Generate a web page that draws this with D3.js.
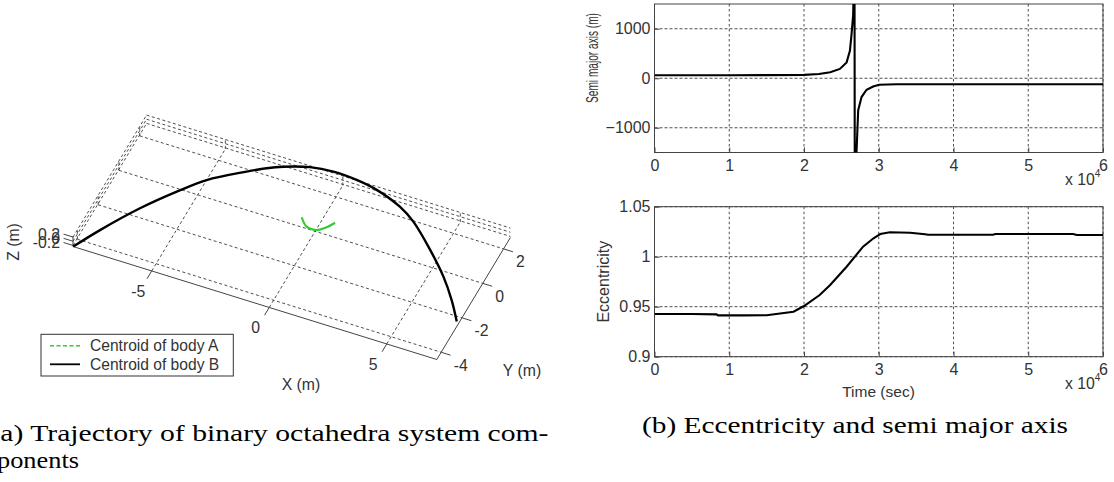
<!DOCTYPE html>
<html>
<head>
<meta charset="utf-8">
<script src="https://cdn.jsdelivr.net/npm/d3@7"></script>
<style>
  body { margin: 0; background: #fff; }
  svg { display: block; }
  text { font-family: "Liberation Sans", sans-serif; fill: #333; }
  .cap { font-family: "Liberation Serif", serif; fill: #000; }
</style>
</head>
<body>
<svg id="fig" width="1114" height="482"></svg>
<script>
// ---------- (a) trajectory, metres ----------
const bodyBX = [-8.34, -7.70, -6.69, -5.69, -4.84, -3.56, -2.90, -2.33, -1.35, -0.41, 0.60, 1.53, 2.71, 3.50, 4.68, 5.70, 6.47, 7.09]
const bodyBY = [-4.42, -3.29, -1.73, -0.45, 0.50, 1.45, 1.89, 2.19, 2.55, 2.68, 2.63, 2.46, 2.02, 1.53, 0.48, -0.55, -1.50, -2.41]
const bodyBZ = [-0.25, -0.17, -0.06, 0.03, 0.097, 0.165, 0.196, 0.217, 0.242, 0.25, 0.248, 0.236, 0.205, 0.17, 0.096, 0.023, -0.044, -0.108]

const bodyAX = [-0.64, -0.27, 0.16, 0.47, 0.68]
const bodyAY = [0.15, -0.21, -0.22, 0.05, 0.37]
const bodyAZ = [0.073, 0.047, 0.047, 0.065, 0.089]

const xLim3 = [-8.35, 7.13]
const yLim3 = [-4.42, 2.66]
const zLim3 = [-0.25, 0.25]
const xTicks3 = [-5, 0, 5]
const yTicks3 = [-4, -2, 0, 2]
const zTicks3 = [-0.2, 0, 0.2]
const legendNames = ["Centroid of body A", "Centroid of body B"]

// ---------- (b) orbit elements ----------
const smaTime = [0, 5000, 10000, 15000, 20000, 22000, 23500, 24800, 25700, 26140, 26360, 26580, 26750, 26800, 27030, 27250, 27700, 28370, 29250, 30050, 32380, 40000, 50000, 60000]
const smaValues = [62, 62, 62, 63, 68, 85, 120, 188, 320, 554, 888, 1288, 3000, -3000, -1480, -646, -380, -232, -166, -132, -122, -122, -122, -122]

const eccTime = [0, 5000, 8300, 8500, 12000, 15000, 18600, 20000, 22100, 23500, 25700, 27900, 29300, 30200, 31500, 34200, 36200, 36600, 41300, 45300, 45600, 56000, 56500, 60000]
const eccValues = [0.9427, 0.9427, 0.9423, 0.9413, 0.9413, 0.9414, 0.945, 0.9507, 0.9617, 0.9717, 0.990, 1.010, 1.0184, 1.0227, 1.0244, 1.024, 1.0224, 1.022, 1.022, 1.022, 1.0227, 1.0227, 1.0217, 1.0217]

const timeTicks = [0, 10000, 20000, 30000, 40000, 50000, 60000]
const smaTicks = [-1000, 0, 1000]
const eccTicks = [0.9, 0.95, 1, 1.05]

const svg = d3.select("#fig")
const fs = 15.8

// ================= left: 3D trajectory =================
const sx3 = d3.scaleLinear().domain(xLim3).range([0, 1])
const sy3 = d3.scaleLinear().domain(yLim3).range([0, 1])
const sz3 = d3.scaleLinear().domain(zLim3).range([0, 1])

// screen corner of (xmin, ymin, zmin) and the edge vectors of the box
const origin = [73, 246.5]
const edgeX = [363.8, 113]
const edgeY = [73.6, -122]
const edgeZ = [0, -10.5]

function proj(x, y, z) {
    const a = sx3(x), b = sy3(y), c = sz3(z)
    return [origin[0] + a * edgeX[0] + b * edgeY[0] + c * edgeZ[0],
            origin[1] + a * edgeX[1] + b * edgeY[1] + c * edgeZ[1]]
}

const line = d3.line()
const g3 = svg.append("g")

function seg(p, q, cls) {
    g3.append("path").attr("class", cls).attr("d", line([p, q]))
}

const [x0, x1] = xLim3, [y0, y1] = yLim3, [z0, z1] = zLim3

// grid (floor + two back walls)
xTicks3.forEach(x => {
    seg(proj(x, y0, z0), proj(x, y1, z0), "grid3")
    seg(proj(x, y1, z0), proj(x, y1, z1), "grid3")
})
yTicks3.forEach(y => {
    seg(proj(x0, y, z0), proj(x1, y, z0), "grid3")
    seg(proj(x0, y, z0), proj(x0, y, z1), "grid3")
})
zTicks3.forEach(z => {
    seg(proj(x0, y1, z), proj(x1, y1, z), "grid3")
    seg(proj(x0, y0, z), proj(x0, y1, z), "grid3")
})

// axis lines
seg(proj(x0, y0, z0), proj(x1, y0, z0), "ax3")
seg(proj(x1, y0, z0), proj(x1, y1, z0), "ax3")
seg(proj(x0, y0, z0), proj(x0, y0, z1), "ax3")

// ticks and labels
xTicks3.forEach(x => {
    const p = proj(x, y0, z0)
    seg(p, proj(x, y0 - 0.45, z0), "ax3")
    g3.append("text").attr("x", p[0] - 13.5).attr("y", p[1] + 20.5)
        .attr("text-anchor", "middle").attr("dominant-baseline", "central")
        .attr("font-size", fs).text(x)
})
yTicks3.forEach(y => {
    const p = proj(x1, y, z0)
    seg(p, proj(x1 + 0.4, y, z0), "ax3")
    g3.append("text").attr("x", p[0] + 12.5).attr("y", p[1] + 13)
        .attr("text-anchor", "start").attr("dominant-baseline", "central")
        .attr("font-size", fs).text(y)
})
zTicks3.forEach(z => {
    const p = proj(x0, y0, z)
    seg(p, proj(x0 - 0.4, y0, z), "ax3")
    g3.append("text").attr("x", p[0] - 13).attr("y", p[1] - 3)
        .attr("text-anchor", "end").attr("dominant-baseline", "central")
        .attr("font-size", fs).text(z)
})

g3.selectAll(".grid3").attr("fill", "none").attr("stroke", "#222")
    .attr("stroke-width", 0.8).attr("stroke-dasharray", "3,2.5")
g3.selectAll(".ax3").attr("fill", "none").attr("stroke", "#444").attr("stroke-width", 1)

// trajectories
const curve3 = d3.line().curve(d3.curveCatmullRom)
g3.append("path")
    .attr("d", curve3(bodyBX.map((x, i) => proj(x, bodyBY[i], bodyBZ[i]))))
    .attr("fill", "none").attr("stroke", "#000").attr("stroke-width", 2.4)
g3.append("path")
    .attr("d", curve3(bodyAX.map((x, i) => proj(x, bodyAY[i], bodyAZ[i]))))
    .attr("fill", "none").attr("stroke", "#3c3").attr("stroke-width", 2.2)

// axis titles
g3.append("text").attr("x", 301).attr("y", 384).attr("text-anchor", "middle")
    .attr("dominant-baseline", "central").attr("font-size", fs).text("X (m)")
g3.append("text").attr("x", 522).attr("y", 370).attr("text-anchor", "middle")
    .attr("dominant-baseline", "central").attr("font-size", fs).text("Y (m)")
g3.append("text").attr("transform", "translate(13,242) rotate(-90)")
    .attr("text-anchor", "middle").attr("dominant-baseline", "central")
    .attr("font-size", fs).text("Z (m)")

// legend
const leg = g3.append("g").attr("transform", "translate(41,334.3)")
leg.append("rect").attr("width", 192.3).attr("height", 41.7)
    .attr("fill", "#fff").attr("stroke", "#333").attr("stroke-width", 1)
legendNames.forEach((name, i) => {
    const yy = 11.4 + i * 18.6
    leg.append("line").attr("x1", 9).attr("x2", 39).attr("y1", yy).attr("y2", yy)
        .attr("stroke", i === 0 ? "#3c3" : "#000").attr("stroke-width", i === 0 ? 1.4 : 1.8)
        .attr("stroke-dasharray", i === 0 ? "4,2.5" : null)
    leg.append("text").attr("x", 49).attr("y", yy).attr("dominant-baseline", "central")
        .attr("font-size", 15.6).text(name)
})

// ================= right: orbit elements =================
const xR = d3.scaleLinear().domain([0, 60000]).range([654.5, 1103])
const ySma = d3.scaleLinear().domain([-1500, 1500]).range([152.5, 4])
const yEcc = d3.scaleLinear().domain([0.9, 1.05]).range([356.7, 206.7])

function panel(yScale, yTicks, yFmt, xs, ys, clipId) {
    const [yb, yt] = yScale.range()
    const [xl, xr] = xR.range()
    const g = svg.append("g")

    g.append("clipPath").attr("id", clipId).append("rect")
        .attr("x", xl).attr("y", yt).attr("width", xr - xl).attr("height", yb - yt)

    // grid
    g.selectAll(".vg").data(timeTicks).join("line")
        .attr("x1", d => xR(d)).attr("x2", d => xR(d)).attr("y1", yt).attr("y2", yb)
        .attr("stroke", "#222").attr("stroke-width", 0.8).attr("stroke-dasharray", "2.5,2.5")
    g.selectAll(".hg").data(yTicks).join("line")
        .attr("y1", d => yScale(d)).attr("y2", d => yScale(d)).attr("x1", xl).attr("x2", xr)
        .attr("stroke", "#222").attr("stroke-width", 0.8).attr("stroke-dasharray", "3,2")

    // box
    g.append("rect").attr("x", xl).attr("y", yt).attr("width", xr - xl).attr("height", yb - yt)
        .attr("fill", "none").attr("stroke", "#444").attr("stroke-width", 1)

    // axes with inward ticks
    const ax = g.append("g").attr("transform", `translate(0,${yb})`)
        .call(d3.axisBottom(xR).tickValues(timeTicks).tickSize(-5).tickPadding(7)
            .tickFormat(d => d / 10000))
    const ay = g.append("g").attr("transform", `translate(${xl},0)`)
        .call(d3.axisLeft(yScale).tickValues(yTicks).tickSize(-5).tickPadding(4).tickFormat(yFmt))
    ;[ax, ay].forEach(a => {
        a.attr("font-family", null).attr("font-size", null)
        a.select(".domain").remove()
        a.selectAll("line").attr("stroke", "#444")
        a.selectAll("text").attr("font-size", 16).attr("fill", "#333")
    })

    // data line
    g.append("path").attr("clip-path", `url(#${clipId})`)
        .attr("d", d3.line().x(d => xR(d)).y((d, i) => yScale(ys[i]))(xs))
        .attr("fill", "none").attr("stroke", "#000").attr("stroke-width", 2.1)

    // x 10^4 multiplier
    const m = g.append("text").attr("x", 1065).attr("y", yb + 32.5).attr("font-size", fs)
    m.append("tspan").text("x 10")
    m.append("tspan").attr("font-size", 10).attr("dy", -8).text("4")
    return g
}

panel(ySma, smaTicks, d3.format("d"), smaTime, smaValues, "clipSma")
panel(yEcc, eccTicks, d => d3.format(".2~f")(d), eccTime, eccValues, "clipEcc")

svg.append("text").attr("transform", "translate(592.5,58) rotate(-90)")
    .attr("text-anchor", "middle").attr("dominant-baseline", "central")
    .attr("font-size", fs).attr("textLength", 90).attr("lengthAdjust", "spacingAndGlyphs")
    .text("Semi major axis (m)")
svg.append("text").attr("transform", "translate(603.3,281.7) rotate(-90)")
    .attr("text-anchor", "middle").attr("dominant-baseline", "central")
    .attr("font-size", 16).text("Eccentricity")
svg.append("text").attr("x", 878.5).attr("y", 391).attr("text-anchor", "middle")
    .attr("dominant-baseline", "central").attr("font-size", 15.5).text("Time (sec)")

// ================= captions =================
svg.append("text").attr("class", "cap").attr("x", -9.5).attr("y", 441)
    .attr("font-size", 23).attr("textLength", 558).attr("lengthAdjust", "spacingAndGlyphs")
    .text("(a) Trajectory of binary octahedra system com-")
svg.append("text").attr("class", "cap").attr("x", -3).attr("y", 468)
    .attr("font-size", 23).attr("textLength", 82).attr("lengthAdjust", "spacingAndGlyphs")
    .text("ponents")
svg.append("text").attr("class", "cap").attr("x", 642).attr("y", 433)
    .attr("font-size", 23).attr("textLength", 426).attr("lengthAdjust", "spacingAndGlyphs")
    .text("(b) Eccentricity and semi major axis")
</script>
</body>
</html>
